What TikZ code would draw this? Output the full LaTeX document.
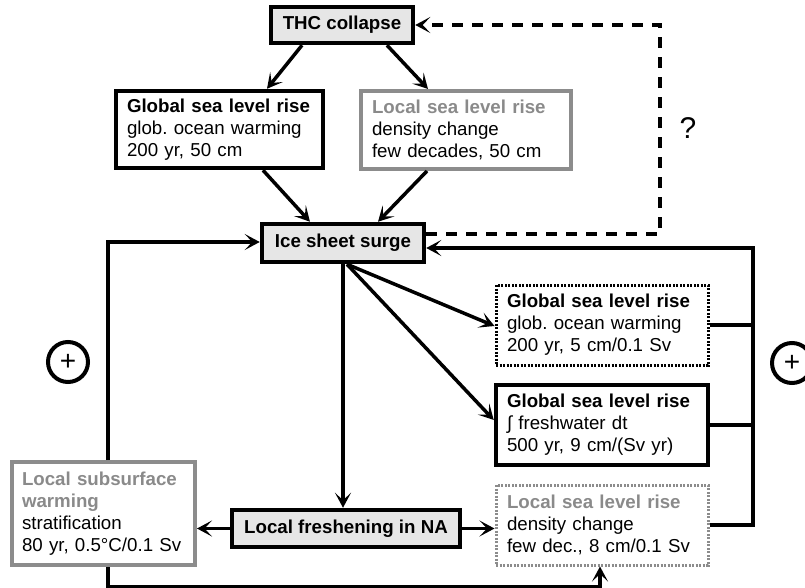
\documentclass[tikz,border=0pt]{standalone}
\usepackage{fontspec}
\setmainfont{Liberation Sans}
\usetikzlibrary{arrows.meta}
\definecolor{boxgray}{HTML}{8C8C8C}
\definecolor{titlegray}{HTML}{8A8A8A}
\definecolor{fillgray}{HTML}{E6E6E6}
\newcommand{\gtitle}[1]{\mbox{\textcolor{titlegray}{\textbf{#1}}}}
\newcommand{\btitle}[1]{\mbox{\textbf{#1}}}
\frenchspacing
\begin{document}
\begin{tikzpicture}[x=1pt,y=-1pt,
  every node/.style={font=\fontsize{18.7}{22}\selectfont},
  base/.style={rectangle, inner xsep=11pt, inner ysep=0pt, align=left},
  keybox/.style={rectangle, draw, line width=4.5pt, fill=fillgray, inner sep=0pt,
    font=\fontsize{18.7}{22}\selectfont\bfseries, align=center},
  blackbox/.style={base, draw, line width=4.5pt},
  graybox/.style={base, draw=boxgray, line width=4pt},
  dotbox/.style={base, draw, line width=3pt, dash pattern=on 2pt off 1.5pt},
  graydotbox/.style={base, draw=boxgray, line width=3pt, dash pattern=on 2pt off 1.5pt},
  tip/.style={-{Stealth[length=15pt,width=16pt,inset=7.5pt]}},
  conn/.style={line width=3.5pt, tip},
  plain/.style={line width=3.5pt},
  dconn/.style={line width=4pt, dash pattern=on 11pt off 9pt, tip},
  pluscirc/.style={circle, draw, line width=4pt, minimum size=40pt, inner sep=0pt,
    font=\fontsize{28}{28}\selectfont}
]
\useasboundingbox (0,0) rectangle (805,588);

% nodes
\node[keybox, minimum width=142pt, minimum height=36pt] (thc) at (342,25) {THC collapse};
\node[blackbox, minimum width=207pt, minimum height=77pt, text width=185pt] (g1) at (219.5,129.5)
  {\btitle{Global sea level rise}\\glob. ocean warming\\200 yr, 50 cm};
\node[graybox, minimum width=210pt, minimum height=78pt, text width=188pt] (l1) at (466,130)
  {\gtitle{Local sea level rise}\\density change\\few decades, 50 cm};
\node[keybox, minimum width=162pt, minimum height=38pt] (ice) at (343,243) {Ice sheet surge};
\node[dotbox, minimum width=212pt, minimum height=80pt, text width=190pt] (gd) at (602,325)
  {\btitle{Global sea level rise}\\glob. ocean warming\\200 yr, 5 cm/0.1 Sv};
\node[blackbox, minimum width=212pt, minimum height=80pt, text width=190pt] (gs) at (602,425)
  {\btitle{Global sea level rise}\\∫ freshwater dt\\500 yr, 9 cm/(Sv yr)};
\node[graydotbox, minimum width=212pt, minimum height=80pt, text width=190pt] (ls) at (602,525)
  {\gtitle{Local sea level rise}\\density change\\few dec., 8 cm/0.1 Sv};
\node[keybox, minimum width=228pt, minimum height=37pt] (fr) at (346,528.5) {Local freshening in NA};
\node[graybox, inner xsep=10pt, minimum width=183pt, minimum height=103pt, text width=163pt] (ss) at (103.5,513.5)
  {\gtitle{Local subsurface}\\\gtitle{warming}\\stratification\\80 yr, 0.5°C/0.1 Sv};

\node[pluscirc] (pl) at (68,362) {+};
\node[pluscirc] (pr) at (792,363) {+};
\node[font=\fontsize{30}{30}\selectfont] (q) at (688,128) {?};

\coordinate (dq) at (660,25);
\coordinate (rr) at (753,248);
\coordinate (bl) at (108,587);

% connectors
\draw[conn] ([xshift=-40pt]thc.south) -- ([xshift=47.5pt]g1.north);
\draw[conn] ([xshift=45pt]thc.south) -- ([xshift=-38pt]l1.north);
\draw[conn] ([xshift=43.5pt]g1.south) -- ([xshift=-33pt]ice.north);
\draw[conn] ([xshift=-39pt]l1.south) -- ([xshift=35pt]ice.north);
\draw[dconn] ([yshift=9pt]ice.east) -| (dq) -- (thc.east);
\draw[conn] ([xshift=4.5pt]ss.north) |- ([yshift=1pt]ice.west);
\draw[plain] (gd.east) -- (gd.east -| rr);
\draw[plain] (gs.east) -- (gs.east -| rr);
\draw[conn] (ls.east) -| (rr) -- ([yshift=-5pt]ice.east);
\draw[conn] (ice.south) -- (ice.south |- fr.north);
\draw[conn] ([xshift=4pt]ice.south) -- ([yshift=-1pt]gd.west);
\draw[conn] ([xshift=4pt]ice.south) -- ([yshift=5pt]gs.west);
\draw[conn] (fr.west) -- (fr.west -| ss.east);
\draw[conn] (fr.east) -- (fr.east -| ls.west);
\draw[conn] ([xshift=4.5pt]ss.south) -- (bl) -| ([xshift=-2pt]ls.south);
\end{tikzpicture}
\end{document}
